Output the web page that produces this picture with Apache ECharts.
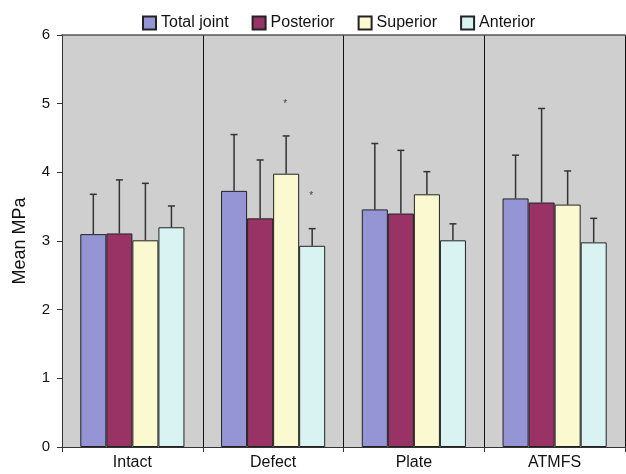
<!DOCTYPE html>
<html><head><meta charset="utf-8">
<script src="https://cdn.jsdelivr.net/npm/echarts@6/dist/echarts.min.js"></script>
<style>html,body{margin:0;padding:0;background:#fff}#c{width:626px;height:474px}</style>
</head><body><div id="c"></div>
<script>
var categories = ['Intact', 'Defect', 'Plate', 'ATMFS'];
var seriesNames = ['Total joint', 'Posterior', 'Superior', 'Anterior'];
var totalJoint = [3.10, 3.73, 3.46, 3.62];
var posterior  = [3.11, 3.33, 3.40, 3.56];
var superior   = [3.01, 3.98, 3.68, 3.53];
var anterior   = [3.20, 2.93, 3.01, 2.98];
var totalJointErr = [3.68, 4.55, 4.42, 4.25];
var posteriorErr  = [3.89, 4.18, 4.32, 4.93];
var superiorErr   = [3.84, 4.53, 4.01, 4.02];
var anteriorErr   = [3.51, 3.18, 3.25, 3.33];
// asterisks: [category index, series index, value]
var asterisks = [[1, 2, 5.02], [1, 3, 3.68]];
var yTicks = [0, 1, 2, 3, 4, 5, 6];

var values = [totalJoint, posterior, superior, anterior];
var errs = [totalJointErr, posteriorErr, superiorErr, anteriorErr];
var colors = ['#9595d5', '#993366', '#fbf9cf', '#d9f3f2'];
var GAP = 0.26;
var FONT = '"Liberation Sans", Arial, sans-serif';

var chart = echarts.init(document.getElementById('c'));
var series = values.map(function (v, i) {
  return {
    name: seriesNames[i], type: 'bar', data: v,
    barGap: '0%', barCategoryGap: (GAP * 100) + '%',
    itemStyle: { color: colors[i], borderColor: '#222', borderWidth: 1 },
    emphasis: { disabled: true }
  };
});
var errData = [];
errs.forEach(function (arr, si) {
  arr.forEach(function (e, ci) { errData.push([ci, values[si][ci], e, si]); });
});
series.push({
  type: 'custom', silent: true, z: 1,
  data: errData,
  renderItem: function (params, api) {
    var ci = api.value(0), si = api.value(3);
    var bw = api.size([1, 0])[0] * (1 - GAP) / 4;
    var base = api.coord([ci, api.value(1)]);
    var top = api.coord([ci, api.value(2)]);
    var x = base[0] + (si - 1.5) * bw;
    var cap = 3.5;
    var st = { stroke: '#333', lineWidth: 1.5 };
    return { type: 'group', children: [
      { type: 'line', shape: { x1: x, y1: base[1], x2: x, y2: top[1] }, style: st },
      { type: 'line', shape: { x1: x - cap, y1: top[1], x2: x + cap, y2: top[1] }, style: st }
    ]};
  }
});
series.push({
  type: 'custom', silent: true,
  data: asterisks,
  renderItem: function (params, api) {
    var ci = api.value(0), si = api.value(1);
    var bw = api.size([1, 0])[0] * (1 - GAP) / 4;
    var p = api.coord([ci, api.value(2)]);
    return { type: 'text', style: { x: p[0] + (si - 1.5) * bw - 1, y: p[1] + 2, text: '*', fill: '#444',
      font: '10px "Liberation Sans"', align: 'center', verticalAlign: 'middle' } };
  }
});

chart.setOption({
  animation: false,
  textStyle: { fontFamily: FONT },
  legend: {
    data: seriesNames, top: 10, left: 137, itemWidth: 13, itemHeight: 13, itemGap: 23, itemTextGap: 8,
    icon: 'rect',
    textStyle: { fontSize: 16, color: '#111', fontFamily: FONT },
    selectedMode: false
  },
  grid: { left: 62, right: 1, top: 35, bottom: 27, show: true, backgroundColor: '#cfcfcf', borderWidth: 0 },
  xAxis: [{
    type: 'category', data: categories,
    axisLine: { lineStyle: { color: '#333', width: 1 } },
    axisTick: { show: true, length: 5, lineStyle: { color: '#333' } },
    axisLabel: { fontSize: 16, color: '#111', margin: 8 },
    splitLine: { show: true, lineStyle: { color: '#111', width: 1 } }
  }, {
    type: 'category', data: categories, position: 'top',
    axisLine: { lineStyle: { color: '#555', width: 1.5 } },
    axisTick: { show: false }, axisLabel: { show: false }
  }],
  yAxis: {
    type: 'value', min: 0, max: 6, interval: 1,
    name: 'Mean MPa', nameLocation: 'middle', nameGap: 33, nameRotate: 90,
    nameTextStyle: { fontSize: 18, color: '#111' },
    axisLine: { show: true, lineStyle: { color: '#333', width: 1 } },
    axisTick: { show: true, length: 5, lineStyle: { color: '#333' } },
    axisLabel: { fontSize: 15, color: '#111', margin: 12,
      formatter: function (v) { return yTicks.indexOf(v) >= 0 ? String(v) : ''; } },
    splitLine: { show: false }
  },
  series: series
});
</script></body></html>
